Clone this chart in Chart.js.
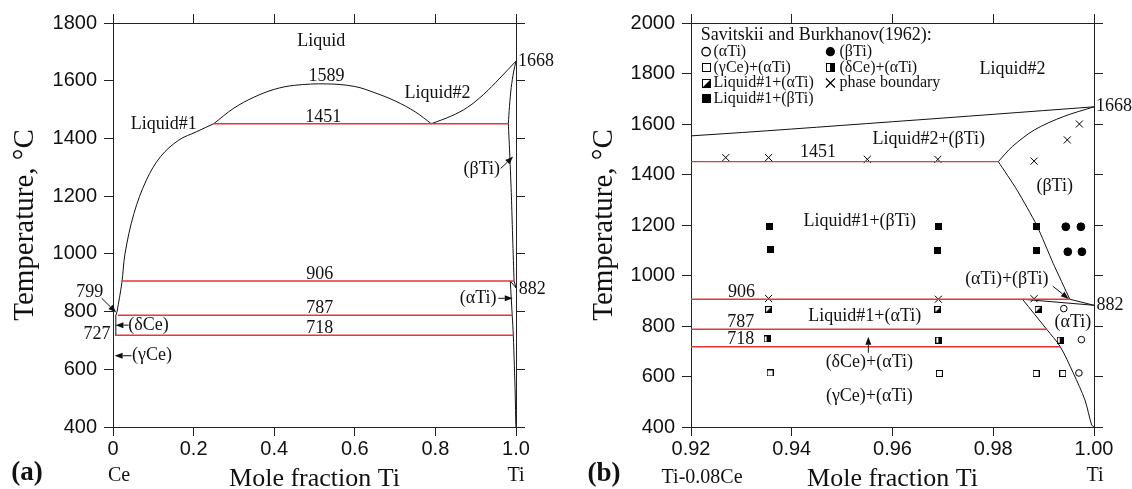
<!DOCTYPE html>
<html><head><meta charset="utf-8">
<script src="https://cdn.jsdelivr.net/npm/chart.js@4.4.1/dist/chart.umd.min.js"></script>
<style>
html,body{margin:0;padding:0;background:#fff;}
#wrap{position:relative;width:1132px;height:489px;overflow:hidden;background:#fff;}
canvas{position:absolute;top:0;}
#ca{left:0;width:560px;height:489px;}
#cb{left:560px;width:572px;height:489px;}
</style></head><body>
<div id="wrap"><canvas id="ca" width="560" height="489"></canvas><canvas id="cb" width="572" height="489"></canvas></div>
<script>
// ---------- DATA ----------
// axis ranges / ticks
const xTicksA = [0, 0.2, 0.4, 0.6, 0.8, 1.0];
const xLabelsA = ['0', '0.2', '0.4', '0.6', '0.8', '1.0'];
const yTicksA = [400, 600, 800, 1000, 1200, 1400, 1600, 1800];
const xTicksB = [0.92, 0.94, 0.96, 0.98, 1.00];
const xLabelsB = ['0.92', '0.94', '0.96', '0.98', '1.00'];
const yTicksB = [400, 600, 800, 1000, 1200, 1400, 1600, 1800, 2000];

// phase boundaries [mole fraction Ti, T in °C]
const liquidusL1 = [[0.010,799],[0.022,900],[0.030,1002],[0.052,1140],[0.083,1256],[0.118,1337],[0.163,1394],[0.207,1423],[0.250,1451]];
const miscDome = [[0.250,1451],[0.30,1505],[0.35,1543],[0.40,1570],[0.45,1584],[0.53,1589],[0.60,1580],[0.65,1558],[0.70,1530],[0.75,1492],[0.79,1451]];
const liquidusL2 = [[0.79,1451],[0.84,1478],[0.88,1508],[0.92,1553],[0.96,1609],[1.0,1668]];
const liquidusBeta = [[0.981,1451],[0.9838,1511],[0.9882,1577],[0.994,1630],[1.0,1668]];
const solvusBeta = [[0.981,1451],[0.9847,1339],[0.9886,1200],[0.9919,1048],[0.9952,906]];
const betaTransus = [[0.9952,906],[1.0,882]];
const alphaTransus = [[0.9858,906],[1.0,882]];
const solvusAlpha = [[0.9858,906],[0.9906,787],[0.9933,718],[0.9959,613],[0.9982,507],[0.99954,408],[1.0,400]];
const ceSide = [[0.005,718],[0.007,787],[0.010,799]];

// invariant isotherms (red)
const isoT = [1451, 906, 787, 718];
const isoStart = [0.250, 0.022, 0.012, 0.005];
const isoEnd = [0.981, 0.9952, 0.9906, 0.9933];

// Savitskii and Burkhanov (1962) experimental points
const ptAlphaTi = [[0.9940,869],[0.9975,746],[0.9970,614]];
const ptBetaTi = [[0.9944,1193],[0.9974,1193],[0.9948,1094],[0.9976,1094]];
const ptGammaCeAlphaTi = [[0.9357,614],[0.9693,612],[0.9885,612],[0.9938,612]];
const ptDeltaCeAlphaTi = [[0.9351,749],[0.9692,744],[0.9933,744]];
const ptL1AlphaTi = [[0.9354,865],[0.9690,865],[0.9889,865]];
const ptL1BetaTi = [[0.9356,1193],[0.9357,1101],[0.9691,1193],[0.9690,1098],[0.9886,1195],[0.9885,1098]];
const ptBoundary = [[0.9269,1467],[0.9354,1467],[0.9550,1460],[0.9690,1460],[0.9354,909],[0.9691,906],[0.9881,908],[0.9881,1453],[0.9947,1537],[0.9971,1600]];

// ---------- STYLE / HELPERS ----------
const SERIF = "'Liberation Serif','Times New Roman',serif";
const SANS = "'Liberation Sans',Arial,sans-serif";
const INK = '#111';
const RED = '#e8353a';
const toXY = arr => arr.map(p => ({x: p[0], y: p[1]}));

function sqMarker(kind, s) {
  const c = document.createElement('canvas'); c.width = s; c.height = s;
  const g = c.getContext('2d');
  g.fillStyle = '#fff'; g.fillRect(0, 0, s, s);
  g.fillStyle = '#000'; g.strokeStyle = '#000'; g.lineWidth = 1;
  if (kind === 'fill') { g.fillRect(0, 0, s, s); }
  else {
    g.strokeRect(0.5, 0.5, s - 1, s - 1);
    if (kind === 'diag') { g.beginPath(); g.moveTo(s, 0); g.lineTo(s, s); g.lineTo(0, s); g.closePath(); g.fill(); }
    if (kind === 'vhalf') { g.fillRect(Math.floor(s / 2), 0, Math.ceil(s / 2), s); }
  }
  return c;
}
const M = {open: sqMarker('open', 7), fill: sqMarker('fill', 7), diag: sqMarker('diag', 7), vhalf: sqMarker('vhalf', 7)};
const ML = {open: sqMarker('open', 9), fill: sqMarker('fill', 9), diag: sqMarker('diag', 9), vhalf: sqMarker('vhalf', 9)};

function lineDS(pts, color, w, tension) {
  return {data: toXY(pts), showLine: true, borderColor: color, borderWidth: w, pointRadius: 0, tension: tension || 0, fill: false};
}
function boundaryDatasets() {
  const ds = [];
  isoT.forEach((t, i) => ds.push(lineDS([[isoStart[i], t], [isoEnd[i], t]], RED, 1.4, 0)));
  ds.push(lineDS(liquidusL1, INK, 1, 0.35));
  ds.push(lineDS(miscDome, INK, 1, 0.35));
  ds.push(lineDS(liquidusL2, INK, 1, 0.35));
  ds.push(lineDS(liquidusBeta, INK, 1, 0.3));
  ds.push(lineDS(solvusBeta, INK, 1, 0.2));
  ds.push(lineDS(betaTransus, INK, 1, 0));
  ds.push(lineDS(alphaTransus, INK, 1, 0));
  ds.push(lineDS(solvusAlpha, INK, 1, 0.3));
  ds.push(lineDS(ceSide, INK, 1, 0));
  return ds;
}

function scalesFor(xmin, xmax, ymin, ymax, xTicks, xLabels, yTicks, g) {
  const grid = {drawOnChartArea: false, drawTicks: true, tickLength: 9, color: '#222', lineWidth: 1};
  const border = {display: true, color: '#222', width: 1};
  const setT = vals => s => { s.ticks = vals.map(v => ({value: v})); };
  return {
    x: {type: 'linear', position: 'bottom', min: xmin, max: xmax, grid, border, afterBuildTicks: setT(xTicks),
        ticks: {padding: 1, color: INK, font: {family: SANS, size: 20}, maxRotation: 0, autoSkip: false, callback: (v, i) => xLabels[i]},
        title: {display: true, text: 'Mole fraction Ti', color: INK, font: {family: SERIF, size: 26, lineHeight: 1}, padding: {top: 0, bottom: -3}},
        afterFit: s => { s.height = g.bottom; }},
    x2: {type: 'linear', position: 'top', min: xmin, max: xmax, grid, border, afterBuildTicks: setT(xTicks),
        ticks: {display: false}, afterFit: s => { s.height = g.top; }},
    y: {type: 'linear', position: 'left', min: ymin, max: ymax, grid, border, afterBuildTicks: setT(yTicks),
        ticks: {padding: 7, color: INK, font: {family: SANS, size: 20}, autoSkip: false, callback: v => String(v)},
        title: {display: true, text: 'Temperature, °C', color: INK, font: {family: SERIF, size: 29, lineHeight: 1.2}, padding: {top: g.ytitle, bottom: 0}},
        afterFit: s => { s.width = g.left; }},
    y2: {type: 'linear', position: 'right', min: ymin, max: ymax, grid, border, afterBuildTicks: setT(yTicks),
        ticks: {display: false}, afterFit: s => { s.width = g.right; }}
  };
}

function drawMarker(ctx, kind, x, y) {
  ctx.save();
  ctx.fillStyle = '#000'; ctx.strokeStyle = '#000'; ctx.lineWidth = 1;
  if (ML[kind]) { ctx.drawImage(ML[kind], Math.round(x - 4.5), Math.round(y - 4.5)); }
  else if (kind === 'circleFill') { ctx.beginPath(); ctx.arc(x, y, 4.6, 0, Math.PI * 2); ctx.fill(); }
  else if (kind === 'circleOpen') { ctx.lineWidth = 1.3; ctx.beginPath(); ctx.arc(x, y, 4.2, 0, Math.PI * 2); ctx.stroke(); }
  else if (kind === 'cross') { const r = 4.5; ctx.lineWidth = 1.2; ctx.beginPath(); ctx.moveTo(x - r, y - r); ctx.lineTo(x + r, y + r); ctx.moveTo(x + r, y - r); ctx.lineTo(x - r, y + r); ctx.stroke(); }
  ctx.restore();
}

function annotPlugin(cfg) {
  return {
    id: 'annot',
    afterDatasetsDraw(chart) {
      const ctx = chart.ctx, xs = chart.scales.x, ys = chart.scales.y, ca = chart.chartArea;
      ctx.save();
      ctx.fillStyle = INK; ctx.strokeStyle = INK; ctx.lineWidth = 1;
      (cfg.arrows || []).forEach(a => {
        const x1 = xs.getPixelForValue(a[0][0]), y1 = ys.getPixelForValue(a[0][1]);
        const x2 = xs.getPixelForValue(a[1][0]), y2 = ys.getPixelForValue(a[1][1]);
        const ang = Math.atan2(y2 - y1, x2 - x1), L = 8, W = 3;
        const bx = x2 - L * Math.cos(ang), by = y2 - L * Math.sin(ang);
        ctx.beginPath(); ctx.moveTo(x1, y1); ctx.lineTo(bx, by); ctx.stroke();
        ctx.beginPath(); ctx.moveTo(x2, y2);
        ctx.lineTo(bx + W * Math.sin(ang), by - W * Math.cos(ang));
        ctx.lineTo(bx - W * Math.sin(ang), by + W * Math.cos(ang));
        ctx.closePath(); ctx.fill();
      });
      (cfg.texts || []).forEach(o => {
        ctx.font = (o.bold ? 'bold ' : '') + (o.size || 18) + 'px ' + SERIF;
        ctx.textAlign = o.align || 'center'; ctx.textBaseline = 'middle';
        const px = o.px !== undefined ? o.px : xs.getPixelForValue(o.x);
        const py = o.py !== undefined ? o.py : ys.getPixelForValue(o.y);
        ctx.fillText(o.t, px, py);
      });
      const lg = cfg.legend;
      if (lg) {
        ctx.font = '18px ' + SERIF; ctx.textAlign = 'left'; ctx.textBaseline = 'middle';
        ctx.fillText(lg.title, ca.left + lg.titleDx, ca.top + lg.titleDy);
        lg.entries.forEach(e => {
          const my = ca.top + lg.rows[e.row];
          drawMarker(ctx, e.kind, ca.left + lg.markerDx[e.col], my);
          ctx.fillStyle = INK;
          ctx.font = '16px ' + SERIF; ctx.textAlign = 'left'; ctx.textBaseline = 'middle';
          ctx.fillText(chart.data.datasets[e.ds].label, ca.left + lg.textDx[e.col], my);
        });
      }
      ctx.restore();
    }
  };
}

// ---------- PANEL (a) ----------
const textsA = [
  {t: 'Liquid', x: 0.517, y: 1735},
  {t: '1589', x: 0.53, y: 1614},
  {t: 'Liquid#2', x: 0.805, y: 1556},
  {t: 'Liquid#1', x: 0.126, y: 1450},
  {t: '1451', x: 0.522, y: 1473},
  {t: '906', x: 0.513, y: 930},
  {t: '787', x: 0.513, y: 811},
  {t: '718', x: 0.513, y: 742},
  {t: '1668', x: 1.005, y: 1666, align: 'left'},
  {t: '882', x: 1.007, y: 877, align: 'left'},
  {t: '(βTi)', x: 0.915, y: 1294},
  {t: '(αTi)', x: 0.906, y: 846},
  {t: '(δCe)', x: 0.088, y: 753},
  {t: '727', x: -0.006, y: 723, align: 'right'},
  {t: '799', x: -0.058, y: 866},
  {t: '(γCe)', x: 0.097, y: 647},
  {t: 'Ce', x: 0.015, py: 476, size: 20},
  {t: 'Ti', x: 1.0, py: 476, size: 20},
  {t: '(a)', px: 27, py: 473, size: 27, bold: true}
];
const arrowsA = [
  [[-0.028, 846], [0.008, 797]],
  [[0.039, 753], [0.006, 753]],
  [[0.046, 647], [0.004, 647]],
  [[0.962, 1296], [0.993, 1337]],
  [[0.956, 846], [0.992, 846]]
];
new Chart(document.getElementById('ca'), {
  type: 'scatter',
  data: {datasets: boundaryDatasets()},
  options: {
    responsive: false, animation: false, devicePixelRatio: 1,
    layout: {padding: 0},
    plugins: {legend: {display: false}, tooltip: {enabled: false}},
    scales: scalesFor(0, 1.0, 400, 1800, xTicksA, xLabelsA, yTicksA, {left: 113, right: 44, top: 23, bottom: 62, ytitle: 7.6})
  },
  plugins: [annotPlugin({texts: textsA, arrows: arrowsA})]
});

// ---------- PANEL (b) ----------
const textsB = [
  {t: 'Liquid#2', x: 0.9838, y: 1815},
  {t: '1668', x: 1.0004, y: 1669, align: 'left'},
  {t: 'Liquid#2+(βTi)', x: 0.9672, y: 1540},
  {t: '1451', x: 0.9452, y: 1487},
  {t: '(βTi)', x: 0.9922, y: 1355},
  {t: 'Liquid#1+(βTi)', x: 0.9535, y: 1213},
  {t: '(αTi)+(βTi)', x: 0.9827, y: 984},
  {t: '906', x: 0.9300, y: 934},
  {t: '882', x: 1.0005, y: 883, align: 'left'},
  {t: 'Liquid#1+(αTi)', x: 0.9545, y: 839},
  {t: '(αTi)', x: 0.9958, y: 813},
  {t: '787', x: 0.9299, y: 815},
  {t: '718', x: 0.9299, y: 746},
  {t: '(δCe)+(αTi)', x: 0.9554, y: 655},
  {t: '(γCe)+(αTi)', x: 0.9554, y: 523},
  {t: 'Ti-0.08Ce', x: 0.9222, py: 478, size: 20},
  {t: 'Ti', x: 1.0002, py: 476, size: 20},
  {t: '(b)', px: 44, py: 474, size: 27, bold: true}
];
const arrowsB = [
  [[0.9918, 958], [0.9950, 907]],
  [[0.9552, 694], [0.9552, 757]]
];
const dsB = boundaryDatasets();
const iPt = dsB.length;
dsB.push({label: '(αTi)', data: toXY(ptAlphaTi), pointStyle: 'circle', pointRadius: 3.3, backgroundColor: '#fff', borderColor: '#000', borderWidth: 1});
dsB.push({label: '(βTi)', data: toXY(ptBetaTi), pointStyle: 'circle', pointRadius: 3.9, backgroundColor: '#000', borderColor: '#000', borderWidth: 1});
dsB.push({label: '(γCe)+(αTi)', data: toXY(ptGammaCeAlphaTi), pointStyle: M.open, pointRadius: 3});
dsB.push({label: '(δCe)+(αTi)', data: toXY(ptDeltaCeAlphaTi), pointStyle: M.vhalf, pointRadius: 3});
dsB.push({label: 'Liquid#1+(αTi)', data: toXY(ptL1AlphaTi), pointStyle: M.diag, pointRadius: 3});
dsB.push({label: 'phase boundary', data: toXY(ptBoundary), pointStyle: 'crossRot', pointRadius: 5, borderColor: '#000', borderWidth: 1});
dsB.push({label: 'Liquid#1+(βTi)', data: toXY(ptL1BetaTi), pointStyle: M.fill, pointRadius: 3});

const legendB = {
  title: 'Savitskii and Burkhanov(1962):', titleDx: 9.7, titleDy: 12,
  rows: [28.7, 44.7, 60.0, 75.6], markerDx: [15.1, 139.4], textDx: [22.5, 148.5],
  entries: [
    {ds: iPt + 0, kind: 'circleOpen', col: 0, row: 0},
    {ds: iPt + 1, kind: 'circleFill', col: 1, row: 0},
    {ds: iPt + 2, kind: 'open', col: 0, row: 1},
    {ds: iPt + 3, kind: 'vhalf', col: 1, row: 1},
    {ds: iPt + 4, kind: 'diag', col: 0, row: 2},
    {ds: iPt + 5, kind: 'cross', col: 1, row: 2},
    {ds: iPt + 6, kind: 'fill', col: 0, row: 3}
  ]
};
new Chart(document.getElementById('cb'), {
  type: 'scatter',
  data: {datasets: dsB},
  options: {
    responsive: false, animation: false, devicePixelRatio: 1,
    layout: {padding: 0},
    plugins: {legend: {display: false}, tooltip: {enabled: false}},
    scales: scalesFor(0.92, 1.0, 400, 2000, xTicksB, xLabelsB, yTicksB, {left: 131, right: 38, top: 23, bottom: 62, ytitle: 26.6})
  },
  plugins: [annotPlugin({texts: textsB, arrows: arrowsB, legend: legendB})]
});
</script>
</body></html>
